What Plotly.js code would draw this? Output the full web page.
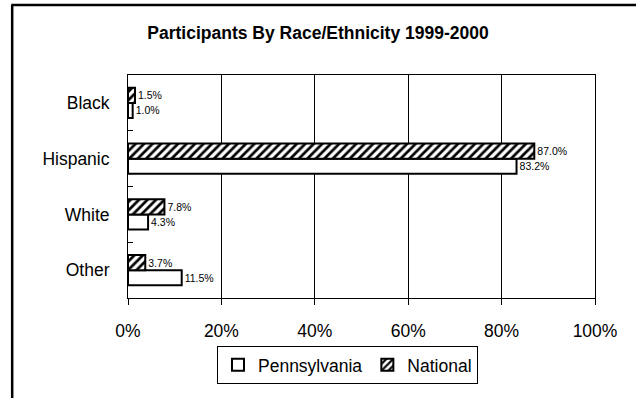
<!DOCTYPE html>
<html>
<head>
<meta charset="utf-8">
<script src="https://cdn.plot.ly/plotly-3.0.1.min.js"></script>
<style>
html,body{margin:0;padding:0;background:#fff;overflow:hidden;}
#chart{width:636px;height:398px;}
</style>
</head>
<body>
<div id="chart"></div>
<script>
// Data
const categories = ['Black', 'Hispanic', 'White', 'Other'];
const pennsylvania = [1.0, 83.2, 4.3, 11.5];
const national = [1.5, 87.0, 7.8, 3.7];
const xTickValues = [0, 20, 40, 60, 80, 100];
const xTickLabels = ['0%', '20%', '40%', '60%', '80%', '100%'];

const FONT = '"Liberation Sans", Arial, sans-serif';

const traces = [
  {
    type: 'bar', orientation: 'h', name: 'Pennsylvania',
    y: categories, x: pennsylvania,
    marker: {color: '#ffffff', line: {color: '#000000', width: 2}},
    text: pennsylvania.map(v => v.toFixed(1) + '%'),
    textposition: 'outside', cliponaxis: false,
    textfont: {family: FONT, size: 10.5, color: '#000'},
    hoverinfo: 'none'
  },
  {
    type: 'bar', orientation: 'h', name: 'National',
    y: categories, x: national,
    marker: {color: '#ffffff', line: {color: '#000000', width: 2},
      pattern: {shape: '/', fgcolor: '#000000', bgcolor: '#ffffff', size: 6, solidity: 0.45}},
    text: national.map(v => v.toFixed(1) + '%'),
    textposition: 'outside', cliponaxis: false,
    textfont: {family: FONT, size: 10.5, color: '#000'},
    hoverinfo: 'none'
  }
];

const layout = {
  width: 636, height: 398,
  margin: {l: 128, r: 41, t: 75, b: 100},
  paper_bgcolor: '#ffffff', plot_bgcolor: '#ffffff',
  font: {family: FONT, size: 17.5, color: '#000'},
  title: {text: '<b>Participants By Race/Ethnicity 1999-2000</b>', font: {family: FONT, size: 17.5, color: '#000'},
    x: 0.5, xref: 'container', y: 0.917, yref: 'container', yanchor: 'middle'},
  barmode: 'group', bargap: 0.46, bargroupgap: 0,
  xaxis: {
    range: [0, 100], tickvals: xTickValues, ticktext: xTickLabels,
    showgrid: true, gridcolor: '#000', gridwidth: 1,
    showline: true, linecolor: '#000', linewidth: 1, mirror: true,
    ticks: 'outside', ticklen: 6, tickcolor: '#000', ticklabelstandoff: 11,
    zeroline: false, fixedrange: true,
    tickfont: {family: FONT, size: 17.5}
  },
  yaxis: {
    type: 'category', categoryorder: 'array', categoryarray: categories.slice().reverse(),
    showgrid: false, showline: true, linecolor: '#000', linewidth: 1, mirror: true,
    ticks: 'inside', ticklen: 5, tickcolor: '#000', tickson: 'boundaries', ticklabelstandoff: 14,
    fixedrange: true,
    tickfont: {family: FONT, size: 17.5}
  },
  showlegend: true,
  legend: {orientation: 'h', x: 0.47, xanchor: 'center', y: -0.215, yanchor: 'top',
    bordercolor: '#000', borderwidth: 1, bgcolor: '#fff',
    font: {family: FONT, size: 17.5}, traceorder: 'normal', itemwidth: 30},
  shapes: [
    {type: 'line', xref: 'paper', yref: 'paper', x0: -0.248, x1: -0.248, y0: -0.6, y1: 1.314,
     line: {color: '#000', width: 2.5}},
    {type: 'line', xref: 'paper', yref: 'paper', x0: -0.25, x1: 1.25, y0: 1.314, y1: 1.314,
     line: {color: '#000', width: 2.5}}
  ]
};

Plotly.newPlot('chart', traces, layout, {staticPlot: true, displayModeBar: false});
</script>
</body>
</html>
